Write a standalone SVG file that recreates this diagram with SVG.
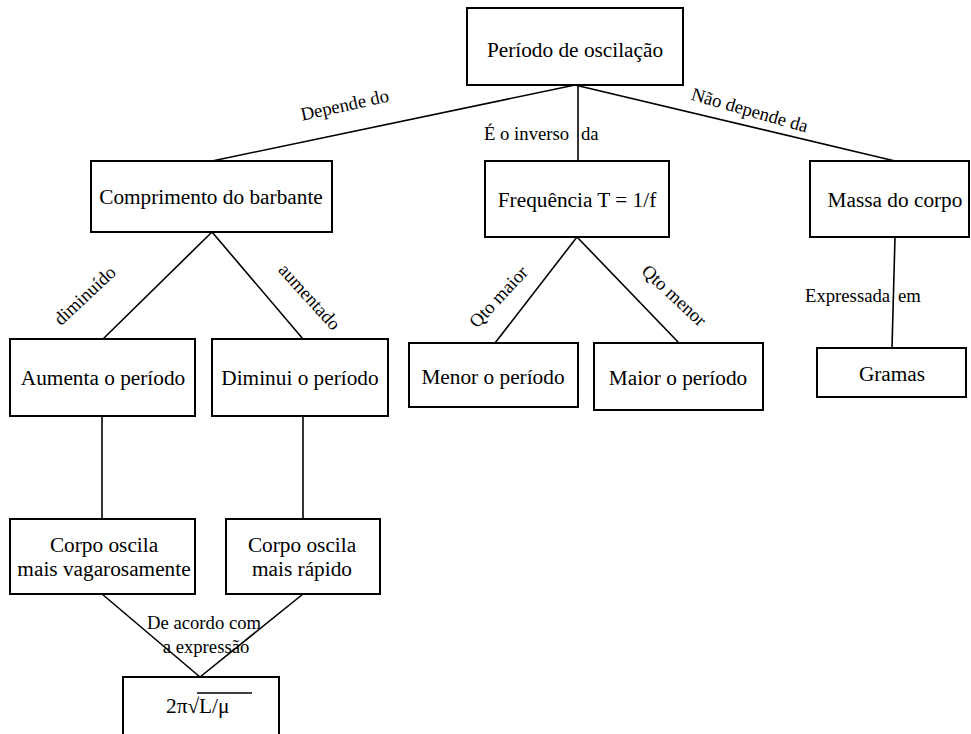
<svg xmlns="http://www.w3.org/2000/svg" width="971" height="734" viewBox="0 0 971 734">
  <style>
    .box { fill: #fff; stroke: #000; stroke-width: 2; }
    .node { font-family: "Liberation Serif", "Times New Roman", serif; font-size: 21.3px; fill: #000; text-anchor: middle; }
    .lbl { font-family: "Liberation Serif", "Times New Roman", serif; font-size: 18.7px; fill: #000; }
    .mid { text-anchor: middle; }
    .edge { stroke: #000; stroke-width: 1.6; fill: none; }
  </style>
  <rect width="971" height="734" fill="#fff"/>

  <!-- connectors -->
  <g id="connectors">
    <line class="edge" x1="575" y1="85" x2="212" y2="161"/>
    <line class="edge" x1="578" y1="85" x2="578" y2="161"/>
    <line class="edge" x1="575" y1="85" x2="895" y2="161"/>
    <line class="edge" x1="212" y1="232" x2="103" y2="339"/>
    <line class="edge" x1="212" y1="232" x2="303" y2="339"/>
    <line class="edge" x1="577" y1="237" x2="495" y2="343"/>
    <line class="edge" x1="577" y1="237" x2="679" y2="343"/>
    <line class="edge" x1="895" y1="237" x2="892" y2="348"/>
    <line class="edge" x1="102" y1="416" x2="102" y2="519"/>
    <line class="edge" x1="303" y1="416" x2="303" y2="519"/>
    <line class="edge" x1="102" y1="594" x2="200" y2="677"/>
    <line class="edge" x1="303" y1="594" x2="200" y2="677"/>

    <!-- connector labels -->
    <text class="lbl mid" transform="translate(346,111) rotate(-12.5)">Depende do</text>
    <text class="lbl" x="484" y="140">É o inverso<tspan x="581">da</tspan></text>
    <text class="lbl mid" transform="translate(748,116) rotate(16)">Não depende da</text>
    <text class="lbl mid" transform="translate(89,300) rotate(-43)">diminuído</text>
    <text class="lbl mid" transform="translate(305,301) rotate(48)">aumentado</text>
    <text class="lbl mid" transform="translate(503,301) rotate(-47)">Qto maior</text>
    <text class="lbl mid" transform="translate(670,300) rotate(43)">Qto menor</text>
    <text class="lbl" x="805" y="302">Expressada<tspan x="898">em</tspan></text>
    <text class="lbl mid" x="204" y="629">De acordo com</text>
    <text class="lbl mid" x="206" y="653">a expressão</text>
  </g>

  <g id="periodo">
    <rect class="box" x="467" y="8" width="216" height="77"/>
    <text class="node" x="575" y="57">Período de oscilação</text>
  </g>
  <g id="comprimento">
    <rect class="box" x="91" y="161" width="241" height="71"/>
    <text class="node" x="211" y="204">Comprimento do barbante</text>
  </g>
  <g id="frequencia">
    <rect class="box" x="485" y="161" width="184" height="76"/>
    <text class="node" x="577" y="207">Frequência T = 1/f</text>
  </g>
  <g id="massa">
    <rect class="box" x="810" y="161" width="159" height="76"/>
    <text class="node" x="895" y="207">Massa do corpo</text>
  </g>
  <g id="aumenta">
    <rect class="box" x="10" y="339" width="185" height="77"/>
    <text class="node" x="103" y="385">Aumenta o período</text>
  </g>
  <g id="diminui">
    <rect class="box" x="212" y="339" width="176" height="77"/>
    <text class="node" x="300" y="385">Diminui o período</text>
  </g>
  <g id="menor">
    <rect class="box" x="409" y="343" width="169" height="64"/>
    <text class="node" x="493" y="384">Menor o período</text>
  </g>
  <g id="maior">
    <rect class="box" x="594" y="343" width="169" height="67"/>
    <text class="node" x="678" y="385">Maior o período</text>
  </g>
  <g id="gramas">
    <rect class="box" x="817" y="348" width="149" height="49"/>
    <text class="node" x="892" y="381">Gramas</text>
  </g>
  <g id="vagarosamente">
    <rect class="box" x="10" y="519" width="185" height="75"/>
    <text class="node" x="104" y="552">Corpo oscila</text>
    <text class="node" x="104" y="576">mais vagarosamente</text>
  </g>
  <g id="rapido">
    <rect class="box" x="226" y="519" width="154" height="75"/>
    <text class="node" x="302" y="552">Corpo oscila</text>
    <text class="node" x="302" y="576">mais rápido</text>
  </g>
  <g id="expressao">
    <rect class="box" x="123" y="677" width="156" height="70"/>
    <text class="node" x="166" y="713" style="text-anchor:start">2π√L/μ</text>
    <line x1="197" y1="693" x2="252" y2="693" stroke="#000" stroke-width="1.3"/>
  </g>
</svg>
